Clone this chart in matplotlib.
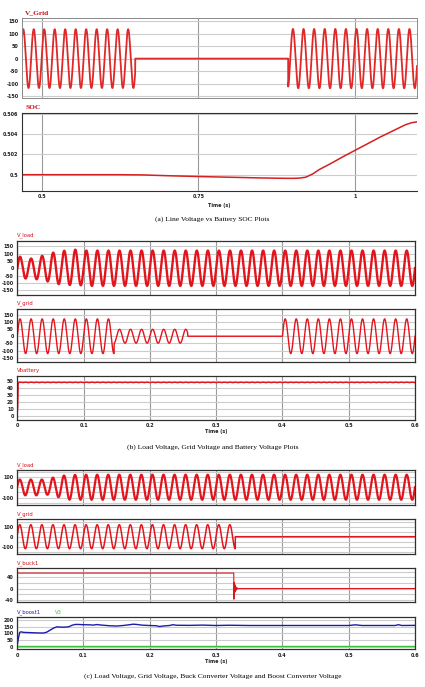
import numpy as np
import matplotlib
matplotlib.use("Agg")
import matplotlib.pyplot as plt

# ---------------- data ----------------
# (a) grid voltage segments: start, end, amplitude, time of a peak (phase), frequency
grid_a_start = [0.4686, 0.649, 0.893]
grid_a_end = [0.649, 0.893, 1.0984]
grid_a_amp = [118, 0, 119]
grid_a_peak = [0.4706, 0.9006, 0.9006]
grid_a_freq = [59.8, 59.2, 59.2]

# (a) battery SOC
soc_t = [0.4686, 0.55, 0.62, 0.66, 0.70, 0.75, 0.80, 0.85, 0.88, 0.90, 0.91, 0.921,
         0.932, 0.943, 0.955, 0.964, 0.98, 1.0, 1.02, 1.04, 1.06, 1.07, 1.08, 1.09, 1.0984]
soc_v = [0.5000, 0.5000, 0.5000, 0.49998, 0.49990, 0.49982, 0.49975, 0.49968, 0.49965,
         0.49964, 0.49966, 0.49975, 0.50007, 0.50052, 0.50090, 0.50120, 0.50175, 0.50240,
         0.50305, 0.50370, 0.50430, 0.50460, 0.50490, 0.50510, 0.50518]

# (b) load voltage: peak of each half cycle during start-up, then steady amplitude
load_b_halfpeaks = [78, 70, 66, 75, 84, 90, 106, 108, 119, 114, 126, 116]
load_b_steady = 120
# (b) grid voltage segments
grid_b_start = [0.0, 0.146, 0.257, 0.4]
grid_b_end = [0.146, 0.257, 0.4, 0.6]
grid_b_amp = [120, 48, 0, 120]
# (b) battery voltage
batt_t = [0.0, 0.0006, 0.0012, 0.002, 0.6]
batt_v = [7, 12, 46, 48.3, 48.3]
batt_ripple = 0.7

# (c) load voltage start-up half cycle peaks
load_c_halfpeaks = [74, 78, 74, 78, 74, 72, 92, 95, 112, 119, 118, 120]
load_c_steady = 120
# (c) grid voltage segments
grid_c_start = [0.0, 0.329]
grid_c_end = [0.329, 0.6]
grid_c_amp = [120, 0]
# (c) buck converter voltage
buck_t = [0.0, 0.3268, 0.3270, 0.3274, 0.3278, 0.3282, 0.3287, 0.3292, 0.3298, 0.3305,
          0.3313, 0.3322, 0.3335, 0.335, 0.6]
buck_v = [55, 55, -38, 22, -20, 15, -12, 9, -7, 5, -3, 2, -1, 0, 0]
# (c) boost converter voltage and V3
boost_t = [0, 0.002, 0.004, 0.006, 0.01, 0.02, 0.03, 0.04, 0.045, 0.05, 0.055, 0.06,
           0.065, 0.07, 0.078, 0.083, 0.088, 0.092, 0.1, 0.11, 0.115, 0.12, 0.13, 0.14,
           0.15, 0.16, 0.17, 0.175, 0.18, 0.19, 0.2, 0.21, 0.215, 0.22, 0.23, 0.235, 0.24,
           0.26, 0.28, 0.3, 0.32, 0.35, 0.4, 0.45, 0.5, 0.51, 0.52, 0.57, 0.575, 0.58, 0.6]
boost_v = [0, 60, 108, 112, 108, 106, 104, 103, 110, 125, 140, 150, 148, 147, 150, 162,
           168, 168, 166, 165, 163, 167, 162, 158, 156, 160, 166, 170, 168, 162, 160, 158,
           152, 156, 160, 166, 162, 161, 163, 160, 162, 160, 160, 160, 160, 165, 160, 160,
           166, 160, 161]
v3_t = [0, 0.6]
v3_v = [2, 2]

x_ticks_bc = [0, 0.1, 0.2, 0.3, 0.4, 0.5, 0.6]
x_labels_bc = ["0", "0.1", "0.2", "0.3", "0.4", "0.5", "0.6"]

# ---------------- helpers ----------------
W, H = 425, 687
RED = "#e3141c"
LABEL_RED = "#d01018"
FRAME = "#303030"
VGRID = "#9a9a9a"
HGRID = "#cccccc"
TICKFONT = dict(fontsize=3.5, fontweight="bold", color="#202020")

fig = plt.figure(figsize=(W / 100, H / 100), dpi=100)


def ax_at(x0, y0, x1, y1):
    return fig.add_axes([x0 / W, 1 - y1 / H, (x1 - x0) / W, (y1 - y0) / H])


def style(ax, xticks, yticks, ylabels, xlabels=None, frame_lw=0.9):
    ax.set_xticks(xticks)
    ax.set_yticks(yticks)
    ax.set_yticklabels(ylabels, **TICKFONT)
    if xlabels is None:
        ax.set_xticklabels([])
    else:
        ax.set_xticklabels(xlabels, **TICKFONT)
    ax.tick_params(length=0, pad=2.5)
    ax.grid(axis="y", color=HGRID, lw=0.8)
    ax.grid(axis="x", color=VGRID, lw=0.8)
    ax.set_axisbelow(True)
    for s in ax.spines.values():
        s.set_color(FRAME)
        s.set_linewidth(frame_lw)


def segments(t, starts, ends, amps):
    y = np.zeros_like(t)
    for s, e, a in zip(starts, ends, amps):
        m = (t >= s) & (t <= e)
        y[m] = a * np.sin(2 * np.pi * 60 * t[m])
    return y


def startup(t, halfpeaks, steady):
    idx = np.floor(t * 120).astype(int)
    env = np.array([halfpeaks[i] if i < len(halfpeaks) else steady for i in idx])
    return env * np.sin(2 * np.pi * 60 * t)


def title(ax, txt, color=LABEL_RED, x=0.0, serif=False):
    if serif:
        ax.text(x, 1.03, txt, transform=ax.transAxes, color=color, fontsize=5.3,
                fontweight="bold", family="Liberation Serif", va="bottom")
    else:
        ax.text(x, 1.06, txt, transform=ax.transAxes, color=color, fontsize=3.8,
                va="bottom")


def caption(y, txt):
    fig.text(0.5, 1 - y / H, txt, ha="center", va="center",
             family="Liberation Serif", fontsize=5.4)


# ---------------- (a) ----------------
ta = np.linspace(0.4686, 1.0984, 8000)
va = np.zeros_like(ta)
for s, e, a, p, f in zip(grid_a_start, grid_a_end, grid_a_amp, grid_a_peak, grid_a_freq):
    m = (ta >= s) & (ta <= e)
    va[m] = a * np.cos(2 * np.pi * f * (ta[m] - p))

a1 = ax_at(22, 18, 417, 98)
a1.plot(ta, va, color="#e02828", lw=1.3)
a1.set_xlim(0.4686, 1.0984)
a1.set_ylim(-158, 163)
style(a1, [0.5, 0.75, 1.0], [-150, -100, -50, 0, 50, 100, 150],
      ["-150", "-100", "-50", "0", "50", "100", "150"], frame_lw=0.7)
for s in a1.spines.values():
    s.set_color("#8a8a8a")
title(a1, "V_Grid", serif=True, x=0.008)

a2 = ax_at(22, 112.5, 417, 191)
a2.plot(soc_t, soc_v, color="#d42020", lw=1.1)
a2.set_xlim(0.4686, 1.0984)
a2.set_ylim(0.4984, 0.5061)
style(a2, [0.5, 0.75, 1.0], [0.5, 0.502, 0.504, 0.506],
      ["0.5", "0.502", "0.504", "0.506"], ["0.5", "0.75", "1"], frame_lw=0.8)
a2.spines["right"].set_visible(False)
title(a2, "SOC", serif=True, x=0.008)
a2.text(0.5, -0.18, "Time (s)", transform=a2.transAxes, ha="center", va="center",
        **TICKFONT)
caption(219, "(a) Line Voltage vs Battery SOC Plots")

# ---------------- (b) ----------------
t = np.linspace(0, 0.6, 24001)
volt_ticks = [-150, -100, -50, 0, 50, 100, 150]
volt_labels = ["-150", "-100", "-50", "0", "50", "100", "150"]

b1 = ax_at(17.3, 241, 415, 295)
b1.plot(t, startup(t, load_b_halfpeaks, load_b_steady), color=RED, lw=1.7)
b1.set_xlim(0, 0.6)
b1.set_ylim(-182, 185)
style(b1, x_ticks_bc, volt_ticks, volt_labels)
title(b1, "V_load")

b2 = ax_at(17.3, 309.3, 415, 362.3)
b2.plot(t, segments(t, grid_b_start, grid_b_end, grid_b_amp), color=RED, lw=1.0)
b2.set_xlim(0, 0.6)
b2.set_ylim(-180, 186)
style(b2, x_ticks_bc, volt_ticks, volt_labels)
title(b2, "V_grid")

vb = np.interp(t, batt_t, batt_v)
vb = vb + np.where(t > 0.002, batt_ripple * np.abs(np.sin(2 * np.pi * 60 * t)) - batt_ripple / 2, 0)
b3 = ax_at(17.3, 376, 415, 420)
b3.plot(t, vb, color=RED, lw=1.0)
b3.set_xlim(0, 0.6)
b3.set_ylim(-5, 57.5)
style(b3, x_ticks_bc, [0, 10, 20, 30, 40, 50], ["0", "10", "20", "30", "40", "50"],
      x_labels_bc)
title(b3, "Vbattery")
b3.text(0.5, -0.27, "Time (s)", transform=b3.transAxes, ha="center", va="center",
        **TICKFONT)
caption(447.5, "(b) Load Voltage, Grid Voltage and Battery Voltage Plots")

# ---------------- (c) ----------------
c_ticks = [-150, -100, -50, 0, 50, 100, 150]
c_labels = ["", "-100", "", "0", "", "100", ""]

c1 = ax_at(17, 470, 415, 505)
c1.plot(t, startup(t, load_c_halfpeaks, load_c_steady), color=RED, lw=1.6)
c1.set_xlim(0, 0.6)
c1.set_ylim(-170, 165)
style(c1, x_ticks_bc, c_ticks, c_labels)
title(c1, "V_load")

c2 = ax_at(17, 519.3, 415, 554)
c2.plot(t, segments(t, grid_c_start, grid_c_end, grid_c_amp), color=RED, lw=1.1)
c2.set_xlim(0, 0.6)
c2.set_ylim(-173, 174)
style(c2, x_ticks_bc, c_ticks, c_labels)
title(c2, "V_grid")

c3 = ax_at(17, 568.3, 415, 602.3)
c3.plot(buck_t, buck_v, color=RED, lw=0.8)
c3.set_xlim(0, 0.6)
c3.set_ylim(-49, 72)
style(c3, x_ticks_bc, [-40, -20, 0, 20, 40, 60], ["-40", "", "0", "", "40", ""])
title(c3, "V_buck1")

c4 = ax_at(17, 617.3, 415, 649.3)
c4.plot(v3_t, v3_v, color="#3cc03c", lw=1.0)
c4.plot(boost_t, boost_v, color="#1c1ca8", lw=1.0)
c4.set_xlim(0, 0.6)
c4.set_ylim(-20, 222)
style(c4, x_ticks_bc, [0, 50, 100, 150, 200], ["0", "50", "100", "150", "200"],
      x_labels_bc)
title(c4, "V_boost1", color="#1c1ca8")
title(c4, "V3", color="#3cc03c", x=0.095)
c4.text(0.5, -0.37, "Time (s)", transform=c4.transAxes, ha="center", va="center",
        **TICKFONT)
caption(676, "(c) Load Voltage, Grid Voltage, Buck Converter Voltage and Boost Converter Voltage")

fig.savefig("out.png", dpi=100, facecolor="white")
